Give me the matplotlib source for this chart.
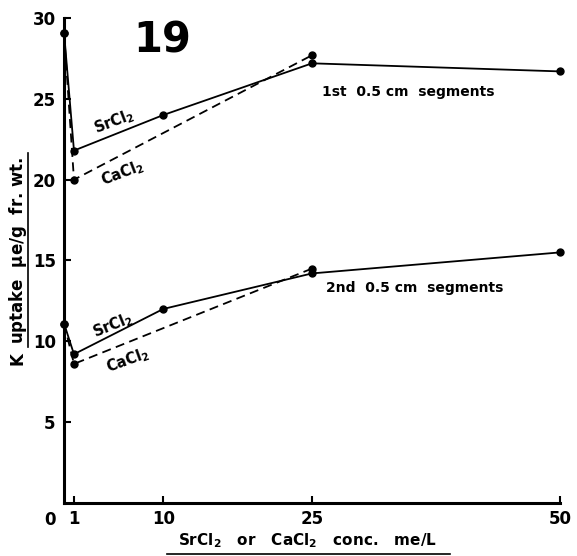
import matplotlib
matplotlib.use("Agg")
import matplotlib.pyplot as plt
from matplotlib.lines import Line2D

# K uptake vs. salt concentration, 1st and 2nd 0.5 cm segments
conc_sr = [0, 1, 10, 25, 50]
conc_ca = [0, 1, 25]

seg1_sr = [29.1, 21.8, 24.0, 27.2, 26.7]
seg1_ca = [29.1, 20.0, 27.7]
seg2_sr = [11.1, 9.2, 12.0, 14.2, 15.5]
seg2_ca = [11.1, 8.6, 14.5]

xticks = [1, 10, 25, 50]
yticks = [5, 10, 15, 20, 25, 30]

plt.rcParams['font.family'] = ['DejaVu Sans']
plt.rcParams['font.weight'] = 'bold'

fig = plt.figure(figsize=(5.77, 5.56), dpi=100)
ax = fig.add_axes([0.111, 0.0955, 0.8595, 0.872])

line_kw = dict(color='black', lw=1.3, marker='o', ms=5, clip_on=False)
ax.plot(conc_sr, seg1_sr, '-', **line_kw)
ax.plot(conc_ca, seg1_ca, '--', dashes=(5, 3), **line_kw)
ax.plot(conc_sr, seg2_sr, '-', **line_kw)
ax.plot(conc_ca, seg2_ca, '--', dashes=(5, 3), **line_kw)

ax.set_xlim(0, 50)
ax.set_ylim(0, 30)
ax.set_xticks(xticks)
ax.set_yticks(yticks)
ax.tick_params(direction='in', length=5, width=1.5, labelsize=12)
ax.tick_params(axis='x', pad=5)
ax.tick_params(axis='y', pad=6)
for lab in ax.get_xticklabels() + ax.get_yticklabels():
    lab.set_fontweight('bold')
for side in ['top', 'right']:
    ax.spines[side].set_visible(False)
for side in ['left', 'bottom']:
    ax.spines[side].set_linewidth(2.2)

ax.annotate('0', xy=(0, 0), xytext=(-10, -6), textcoords='offset points',
            ha='center', va='top', fontsize=12, fontweight='bold')

# curve labels
ax.text(5.1, 23.6, r'SrCl$_\mathbf{2}$', rotation=21, ha='center', va='center', fontsize=10.5)
ax.text(5.9, 20.4, r'CaCl$_\mathbf{2}$', rotation=21, ha='center', va='center', fontsize=10.5)
ax.text(4.9, 10.95, r'SrCl$_\mathbf{2}$', rotation=22, ha='center', va='center', fontsize=10.5)
ax.text(6.4, 8.8, r'CaCl$_\mathbf{2}$', rotation=20, ha='center', va='center', fontsize=10.5)

ax.text(26.0, 25.4, '1st  0.5 cm  segments', ha='left', va='center', fontsize=10)
ax.text(26.4, 13.3, '2nd  0.5 cm  segments', ha='left', va='center', fontsize=10)

ax.text(9.9, 28.6, '19', ha='center', va='center', fontsize=30, fontweight='bold')

# axis titles with underlines
fig.text(0.031, 1 - 359 / 556, 'K', rotation=90, ha='center', va='center', fontsize=12)
fig.text(0.031, 1 - 250 / 556, r'uptake  $\mathbf{\mu}$e/g  fr. wt.', rotation=90,
         ha='center', va='center', fontsize=12)
fig.add_artist(Line2D([0.0485, 0.0485], [1 - 347 / 556, 1 - 153 / 556],
                      color='black', lw=1.2, transform=fig.transFigure))

fig.text(0.533, 0.028, r'SrCl$_\mathbf{2}$   or   CaCl$_\mathbf{2}$   conc.   me/L',
         ha='center', va='center', fontsize=11)
fig.add_artist(Line2D([167 / 577, 450 / 577], [0.004, 0.004],
                      color='black', lw=1.2, transform=fig.transFigure))

fig.savefig('out.png', dpi=100)
